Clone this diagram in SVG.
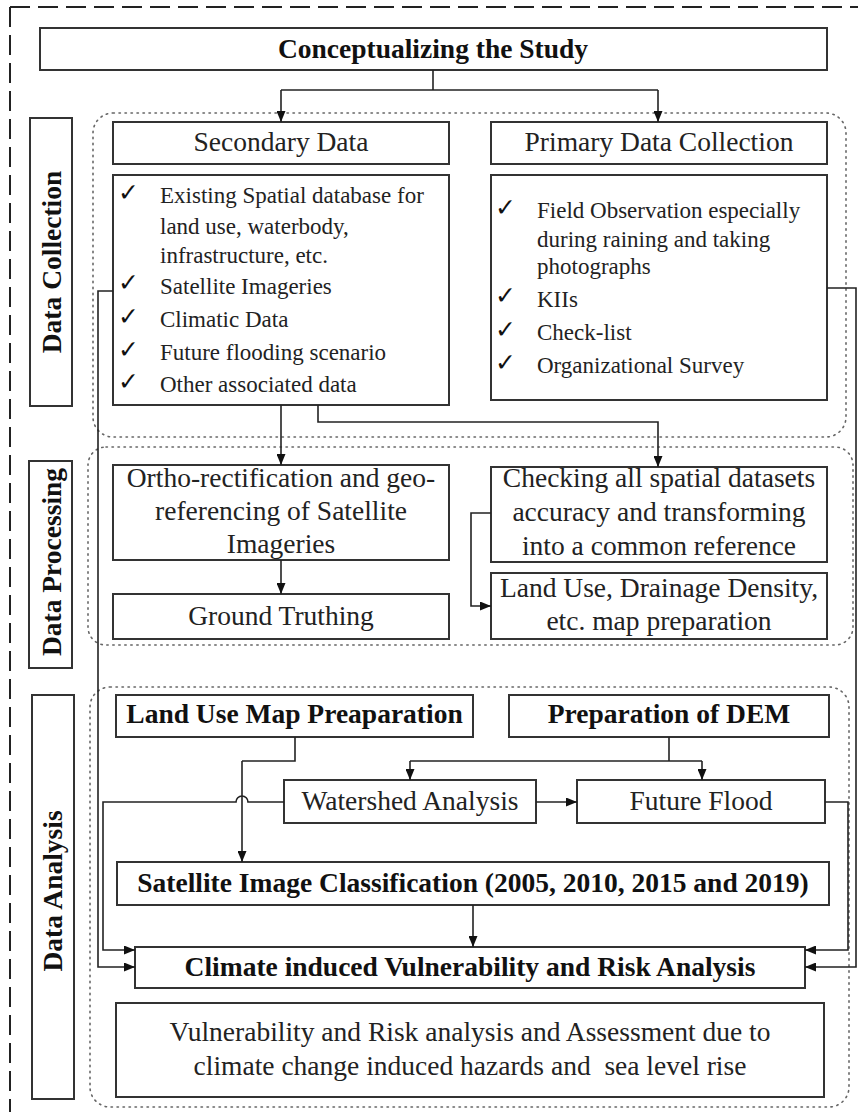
<svg xmlns="http://www.w3.org/2000/svg" width="858" height="1115" viewBox="0 0 858 1115">
<defs>
<marker id="ah" markerWidth="11" markerHeight="9" refX="11" refY="4.5" orient="auto" markerUnits="userSpaceOnUse">
<path d="M0,0 L11,4.5 L0,9 z" fill="#111"/>
</marker>
<style>
.box{fill:#fff;stroke:#333;stroke-width:2}
.dot{fill:none;stroke:#666;stroke-width:1.6;stroke-dasharray:1.4 4.6;stroke-linecap:round}
.dash{fill:none;stroke:#222;stroke-width:2;stroke-dasharray:20 8}
.c{fill:none;stroke:#222;stroke-width:1.6}
.ca{fill:none;stroke:#222;stroke-width:1.6;marker-end:url(#ah)}
text{font-family:"Liberation Serif","Times New Roman",serif;fill:#222}
.r{font-size:27.5px;text-anchor:middle}
.b{font-size:27.5px;font-weight:bold;text-anchor:middle;fill:#111}
.l{font-size:23px}
.ck{font-family:"DejaVu Sans",sans-serif;font-size:25px;font-weight:bold;fill:#111}
</style>
</defs>
<g id="frame">
<line class="dash" x1="10" y1="7" x2="858" y2="7"/>
<line class="dash" x1="10" y1="7" x2="10" y2="1112"/>
<rect class="dot" x="93" y="113" width="753" height="324" rx="20"/>
<rect class="dot" x="88" y="447" width="765" height="198" rx="18"/>
<rect class="dot" x="90" y="687" width="759" height="420" rx="20"/>
</g>
<g id="label-collection">
<rect class="box" x="30" y="118" width="42" height="288"/>
<text class="b" transform="translate(61,262) rotate(-90)">Data Collection</text>
</g>
<g id="label-processing">
<rect class="box" x="29" y="461" width="43" height="207"/>
<text class="b" transform="translate(61,562) rotate(-90)">Data Processing</text>
</g>
<g id="label-analysis">
<rect class="box" x="32" y="695" width="42" height="404"/>
<text class="b" transform="translate(62,891) rotate(-90)">Data Analysis</text>
</g>
<g id="conceptualizing">
<rect class="box" x="40" y="28" width="787" height="42"/>
<text class="b" x="433" y="58">Conceptualizing the Study</text>
</g>
<g id="secondary">
<rect class="box" x="113" y="122" width="336" height="42"/>
<text class="r" x="281" y="151">Secondary Data</text>
</g>
<g id="primary">
<rect class="box" x="491" y="122" width="336" height="42"/>
<text class="r" x="659" y="151">Primary Data Collection</text>
</g>
<g id="secondary-list">
<rect class="box" x="113" y="175" width="336" height="230"/>
<text class="ck" x="118" y="201">✓</text>
<text class="ck" x="118" y="291">✓</text>
<text class="ck" x="118" y="325">✓</text>
<text class="ck" x="118" y="358">✓</text>
<text class="ck" x="118" y="390">✓</text>
<text class="l" x="160" y="203">Existing Spatial database for</text>
<text class="l" x="160" y="234">land use, waterbody,</text>
<text class="l" x="160" y="263">infrastructure, etc.</text>
<text class="l" x="160" y="294">Satellite Imageries</text>
<text class="l" x="160" y="327">Climatic Data</text>
<text class="l" x="160" y="360">Future flooding scenario</text>
<text class="l" x="160" y="392">Other associated data</text>
</g>
<g id="primary-list">
<rect class="box" x="491" y="175" width="336" height="225"/>
<text class="ck" x="495" y="216">✓</text>
<text class="ck" x="495" y="304">✓</text>
<text class="ck" x="495" y="338">✓</text>
<text class="ck" x="495" y="371">✓</text>
<text class="l" x="537" y="218">Field Observation especially</text>
<text class="l" x="537" y="247">during raining and taking</text>
<text class="l" x="537" y="274">photographs</text>
<text class="l" x="537" y="307">KIIs</text>
<text class="l" x="537" y="340">Check-list</text>
<text class="l" x="537" y="373">Organizational Survey</text>
</g>
<g id="ortho">
<rect class="box" x="113" y="465" width="336" height="95"/>
<text class="r" x="281" y="487">Ortho-rectification and geo-</text>
<text class="r" x="281" y="520">referencing of Satellite</text>
<text class="r" x="281" y="553">Imageries</text>
</g>
<g id="ground">
<rect class="box" x="113" y="594" width="336" height="45"/>
<text class="r" x="281" y="625">Ground Truthing</text>
</g>
<g id="checking">
<rect class="box" x="491" y="467" width="336" height="95"/>
<text class="r" x="659" y="487">Checking all spatial datasets</text>
<text class="r" x="659" y="521">accuracy and transforming</text>
<text class="r" x="659" y="555">into a common reference</text>
</g>
<g id="landuse-drainage">
<rect class="box" x="491" y="573" width="336" height="66"/>
<text class="r" x="659" y="597">Land Use, Drainage Density,</text>
<text class="r" x="659" y="630">etc. map preparation</text>
</g>
<g id="landuse-map">
<rect class="box" x="116" y="695" width="357" height="42"/>
<text class="b" x="294.5" y="723">Land Use Map Preaparation</text>
</g>
<g id="dem">
<rect class="box" x="509" y="695" width="320" height="42"/>
<text class="b" x="669" y="723">Preparation of DEM</text>
</g>
<g id="watershed">
<rect class="box" x="284" y="780" width="252" height="43"/>
<text class="r" x="410" y="810">Watershed Analysis</text>
</g>
<g id="future-flood">
<rect class="box" x="577" y="780" width="248" height="43"/>
<text class="r" x="701" y="810">Future Flood</text>
</g>
<g id="classification">
<rect class="box" x="117" y="862" width="712" height="43"/>
<text class="b" x="473" y="892">Satellite Image Classification (2005, 2010, 2015 and 2019)</text>
</g>
<g id="climate">
<rect class="box" x="135" y="947" width="670" height="41"/>
<text class="b" x="470" y="976">Climate induced Vulnerability and Risk Analysis</text>
</g>
<g id="assessment">
<rect class="box" x="116" y="1003" width="708" height="94"/>
<text class="r" x="470" y="1041">Vulnerability and Risk analysis and Assessment due to</text>
<text class="r" x="470" y="1075" xml:space="preserve">climate change induced hazards and  sea level rise</text>
</g>
<g id="connectors">
<line class="c" x1="433" y1="70" x2="433" y2="90"/>
<line class="c" x1="281" y1="90" x2="658" y2="90"/>
<line class="ca" x1="281" y1="90" x2="281" y2="122"/>
<line class="ca" x1="658" y1="90" x2="658" y2="122"/>
<line class="ca" x1="281" y1="405" x2="281" y2="465"/>
<polyline class="ca" points="318,405 318,422 658,422 658,467"/>
<line class="ca" x1="281" y1="560" x2="281" y2="594"/>
<polyline class="ca" points="491,513 471,513 471,606 491,606"/>
<polyline class="c" points="295,737 295,761 242,761"/>
<line class="ca" x1="242" y1="761" x2="242" y2="862"/>
<line class="c" x1="669" y1="737" x2="669" y2="761"/>
<line class="c" x1="410" y1="761" x2="702" y2="761"/>
<line class="ca" x1="410" y1="761" x2="410" y2="780"/>
<line class="ca" x1="702" y1="761" x2="702" y2="780"/>
<line class="ca" x1="536" y1="802" x2="577" y2="802"/>
<line class="ca" x1="473" y1="905" x2="473" y2="947"/>
<path class="ca" d="M284,802 L248,802 A6,6 0 0 0 236,802 L103,802 L103,950 L135,950"/>
<polyline class="ca" points="113,291 98,291 98,967 135,967"/>
<polyline class="ca" points="825,802 848,802 848,950 805,950"/>
<polyline class="ca" points="827,288 856,288 856,967 805,967"/>
</g>
</svg>
